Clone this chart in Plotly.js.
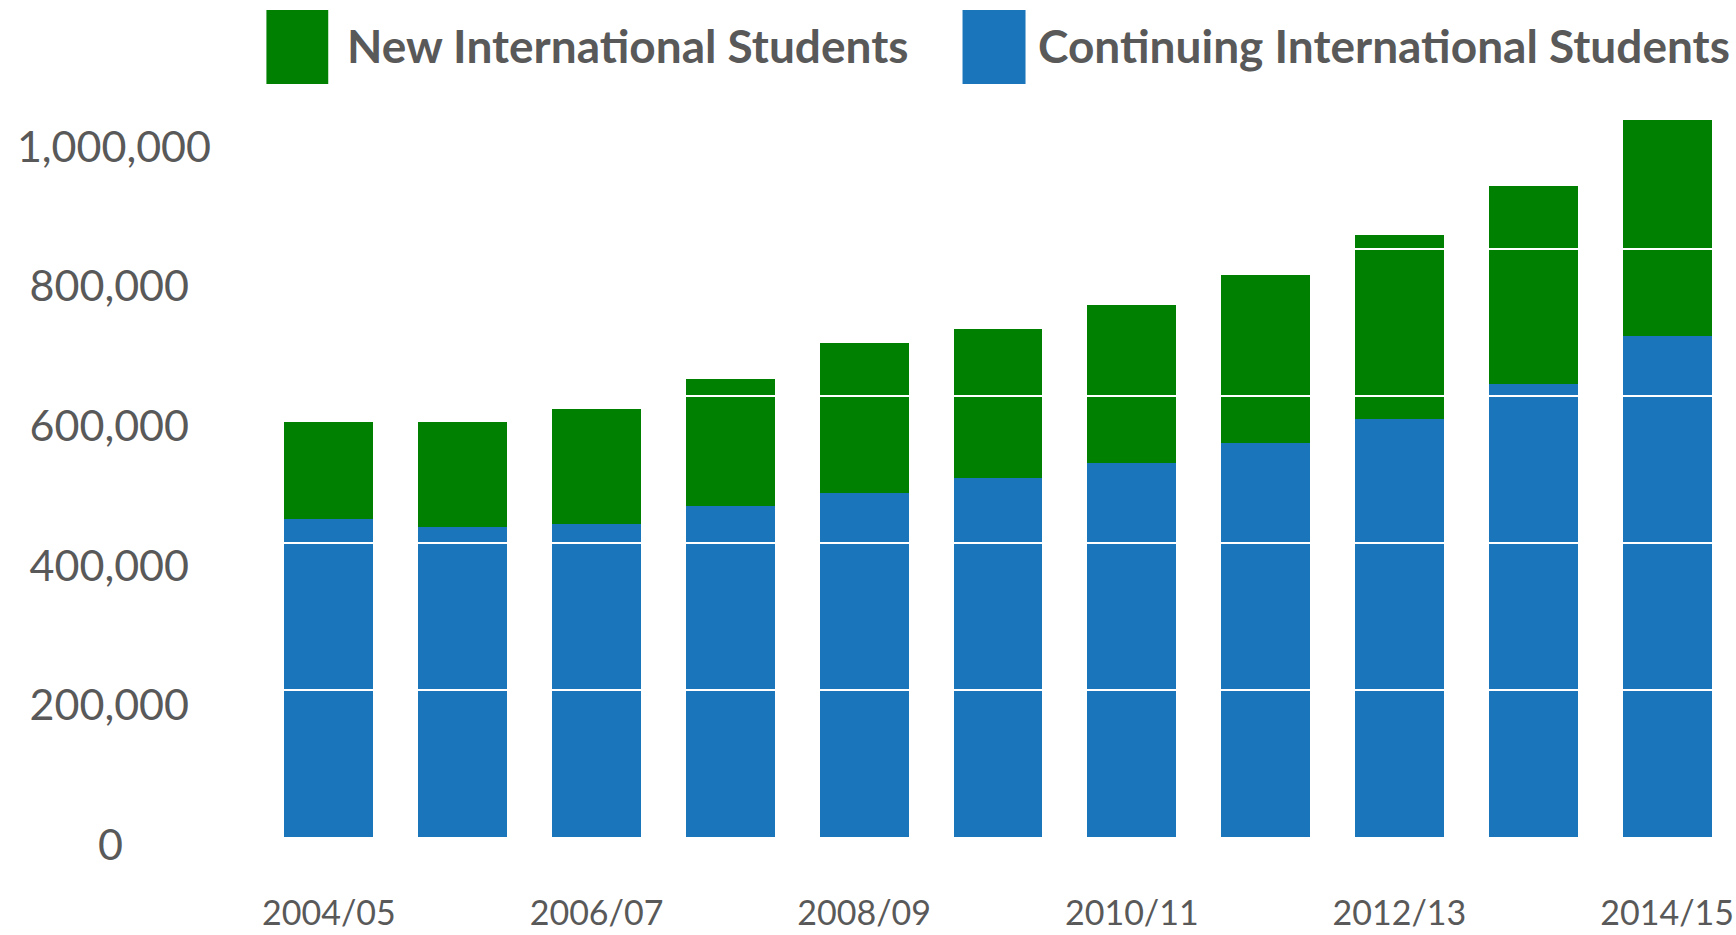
<!DOCTYPE html>
<html>
<head>
<meta charset="utf-8">
<script src="https://cdn.plot.ly/plotly-3.0.1.min.js"></script>
<style>
  html, body { margin: 0; padding: 0; background: #ffffff; overflow: hidden; }
  #chart { width: 1736px; height: 935px; }
</style>
</head>
<body>
<div id="chart"></div>
<script>
// ---- data ----
const years = ['2004/05','2005/06','2006/07','2007/08','2008/09','2009/10','2010/11','2011/12','2012/13','2013/14','2014/15'];
const continuingStudents = [433093, 421843, 425806, 450684, 468646, 487974, 508787, 536028, 568724, 615924, 681160];
const newStudents = [131946, 142923, 157178, 173121, 202970, 202949, 214490, 228467, 250920, 270128, 293766];
const seriesNames = ['New International Students', 'Continuing International Students'];
const yTickValues = [0, 200000, 400000, 600000, 800000, 1000000];
const yTickLabels = ['0', '200,000', '400,000', '600,000', '800,000', '1,000,000'];
const gridValues = [200000, 400000, 600000, 800000, 1000000];

// ---- styles ----
const GREEN = '#008000';
const BLUE = '#1B75BB';
const TEXT = '#595959';
const FONT = 'Lato, "Open Sans", sans-serif';

// centre the y labels by padding with no-break spaces (half of width difference)
const longest = yTickLabels.reduce((a, b) => a.length > b.length ? a : b);
function padLabel(s) {
  const digitW = 0.58, commaW = 0.23, spaceW = 0.245;
  const w = t => [...t].reduce((acc, ch) => acc + (ch === ',' ? commaW : digitW), 0);
  const n = Math.round((w(longest) - w(s)) / 2 / spaceW);
  return s + '\u00A0'.repeat(n);
}

const traces = [
  {
    type: 'bar', name: seriesNames[1], x: years, y: continuingStudents,
    marker: { color: BLUE }, hoverinfo: 'x+y+name'
  },
  {
    type: 'bar', name: seriesNames[0], x: years, y: newStudents,
    marker: { color: GREEN }, hoverinfo: 'x+y+name'
  },
  { // invisible trace that carries the labelled value axis
    type: 'scatter', x: [years[0]], y: [0], yaxis: 'y2',
    mode: 'markers', marker: { opacity: 0 }, hoverinfo: 'skip', showlegend: false
  }
];

const shapes = gridValues.map(v => ({
  type: 'line', xref: 'paper', x0: 0, x1: 1, yref: 'y', y0: v, y1: v,
  line: { color: '#ffffff', width: 2 }, layer: 'above'
}));

// custom legend (large swatches)
shapes.push(
  { type: 'rect', xref: 'paper', yref: 'paper', x0: 0.003, x1: 0.045, y0: 1.0208, y1: 1.1169,
    fillcolor: GREEN, line: { width: 0 } },
  { type: 'rect', xref: 'paper', yref: 'paper', x0: 0.4759, x1: 0.5187, y0: 1.0208, y1: 1.1169,
    fillcolor: BLUE, line: { width: 0 } }
);

const annotations = [
  { text: seriesNames[0], xref: 'paper', yref: 'paper', x: 0.0567, y: 1.0704,
    xanchor: 'left', yanchor: 'middle', showarrow: false,
    font: { family: FONT, size: 46, color: TEXT, weight: 'bold' } },
  { text: seriesNames[1], xref: 'paper', yref: 'paper', x: 0.5255, y: 1.0704,
    xanchor: 'left', yanchor: 'middle', showarrow: false,
    font: { family: FONT, size: 46, color: TEXT, weight: 'bold' } }
];

const layout = {
  width: 1736, height: 935,
  margin: { l: 262, r: 2, t: 100, b: 65 },
  paper_bgcolor: '#ffffff', plot_bgcolor: '#ffffff',
  barmode: 'stack', bargap: 0.335,
  showlegend: false,
  xaxis: {
    type: 'category',
    tickmode: 'array',
    tickvals: years.filter((_, i) => i % 2 === 0),
    ticks: '', showline: false, showgrid: false, zeroline: false,
    ticklabelstandoff: 20,
    tickfont: { family: FONT, size: 34, color: TEXT },
    range: [-0.5, years.length - 0.5]
  },
  yaxis: {
    range: [-44898, 1002721],
    showticklabels: false, showgrid: false, zeroline: false, showline: false, ticks: ''
  },
  yaxis2: {
    overlaying: 'y', side: 'left', anchor: 'x',
    range: [-35801, 1066877],
    tickmode: 'array', tickvals: yTickValues, ticktext: yTickLabels.map(padLabel),
    showgrid: false, zeroline: false, showline: false, ticks: '',
    ticklabelstandoff: 50,
    tickfont: { family: FONT, size: 43, color: TEXT }
  },
  shapes: shapes,
  annotations: annotations
};

Plotly.newPlot('chart', traces, layout, { displayModeBar: false, staticPlot: true });
</script>
</body>
</html>
